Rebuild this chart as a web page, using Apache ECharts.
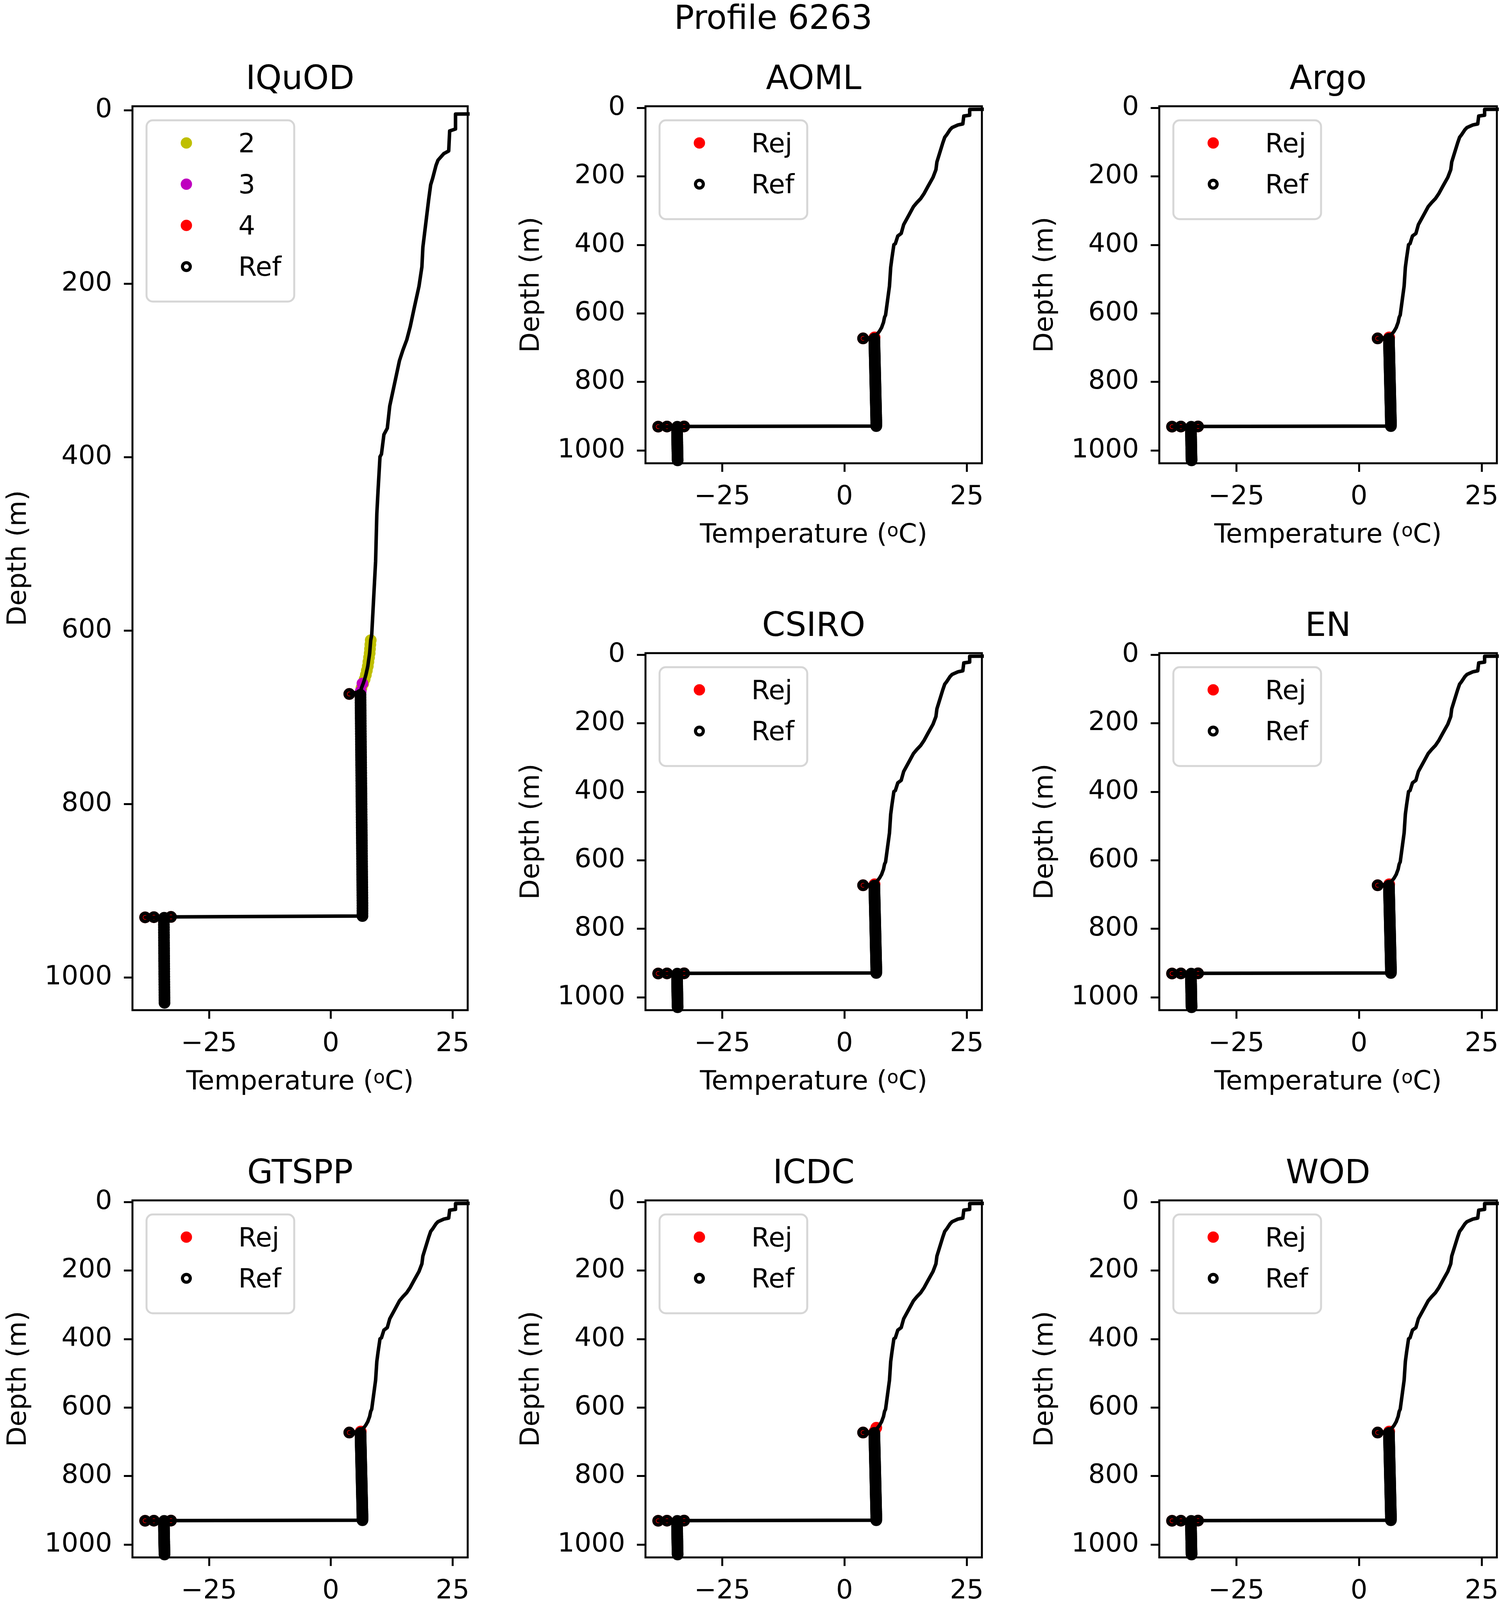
<!DOCTYPE html>
<html>
<head>
<meta charset="utf-8">
<script src="https://cdn.jsdelivr.net/npm/echarts@6/dist/echarts.min.js"></script>
<style>
  html, body { margin: 0; padding: 0; background: #fff; }
  #container { width: 3839px; height: 4217px; }
</style>
</head>
<body>
<div id="container"></div>
<script>
// temperature (degC) / depth (m), surface down to the flagged part
var upperTemp = [29.5, 25.6, 25.6, 24.4, 24.2, 23.2, 22.0, 21.6, 20.9, 20.5, 20.1, 18.9, 18.7, 18.1,
    17.1, 16.3, 15.6, 14.8, 14.1, 13.3, 12.1, 11.6, 10.9, 10.4, 10.1, 9.7, 9.45, 9.2, 8.4];
var upperDepth = [4.2, 4.4, 21.6, 23.9, 47, 50, 57.6, 63.6, 78.6, 86, 102.6, 158, 180.6, 203,
    228.6, 249.6, 264.6, 276.6, 288.6, 309.6, 341, 366.6, 374, 396.5, 399.5, 438.6, 465.5, 520, 605];

// IQuOD flag 2 (yellow)
var flag2Temp = [8.2, 8.12, 8.05, 7.98, 7.85, 7.72, 7.6, 7.4, 7.2, 6.95, 6.65, 6.3];
var flag2Depth = [611, 616, 621, 626, 631, 636, 641, 646, 651, 656, 661, 666];
// IQuOD flag 3 (magenta)
var flag3Temp = [6.5, 6.15];
var flag3Depth = [661, 670];
// IQuOD flag 4 (red)
var flag4Temp = [3.8, -32.8, -36.3, -38.1];
var flag4Depth = [673, 930, 930.3, 930.5];

// points rejected by the other QC groups
var rejTemp = [6.15, 3.8, -32.8, -36.3, -38.1];
var rejDepth = [670, 673, 930, 930.3, 930.5];
var icdcRejTemp = [6.5, 6.15, 3.8, -32.8, -36.3, -38.1];
var icdcRejDepth = [659, 670, 673, 930, 930.3, 930.5];

// the dense part of the profile (reference points)
var offTemp = [3.8];
var offDepth = [673];
var colTemp = [
    6.10, 6.10, 6.11, 6.11, 6.12, 6.12, 6.13, 6.13, 6.14, 6.14,
    6.15, 6.15, 6.16, 6.16, 6.17, 6.17, 6.18, 6.18, 6.19, 6.19,
    6.20, 6.20, 6.21, 6.21, 6.22, 6.22, 6.23, 6.23, 6.24, 6.24,
    6.25, 6.25, 6.26, 6.26, 6.27, 6.27, 6.28, 6.28, 6.29, 6.29,
    6.30, 6.30, 6.31, 6.31, 6.32, 6.32, 6.33, 6.33, 6.34, 6.34,
    6.35, 6.35, 6.36, 6.36, 6.37, 6.37, 6.38, 6.38, 6.39, 6.39,
    6.40, 6.40, 6.41, 6.41, 6.42, 6.42, 6.43, 6.43, 6.44, 6.44,
    6.45, 6.45, 6.46, 6.46, 6.47, 6.47, 6.48, 6.48, 6.49, 6.49,
    6.50, 6.50, 6.50, 6.50, 6.50, 6.50];
var colDepth = [
    674, 677, 680, 683, 686, 689, 692, 695, 698, 701,
    704, 707, 710, 713, 716, 719, 722, 725, 728, 731,
    734, 737, 740, 743, 746, 749, 752, 755, 758, 761,
    764, 767, 770, 773, 776, 779, 782, 785, 788, 791,
    794, 797, 800, 803, 806, 809, 812, 815, 818, 821,
    824, 827, 830, 833, 836, 839, 842, 845, 848, 851,
    854, 857, 860, 863, 866, 869, 872, 875, 878, 881,
    884, 887, 890, 893, 896, 899, 902, 905, 908, 911,
    914, 917, 920, 923, 926, 929];
var stepTemp = [-32.8, -36.3, -38.1, -34.2];
var stepDepth = [930, 930.3, 930.5, 931];
var deepTemp = [
    -34.25, -34.25, -34.25, -34.24, -34.24, -34.24, -34.23, -34.23, -34.23, -34.22, -34.22,
    -34.21, -34.21, -34.21, -34.20, -34.20, -34.20, -34.19, -34.19, -34.18, -34.18, -34.18,
    -34.17, -34.17, -34.16, -34.16, -34.15, -34.15, -34.14, -34.14, -34.13, -34.13, -34.12];
var deepDepth = [
    933, 936, 939, 942, 945, 948, 951, 954, 957, 960, 963,
    966, 969, 972, 975, 978, 981, 984, 987, 990, 993, 996,
    999, 1002, 1005, 1008, 1011, 1014, 1017, 1020, 1023, 1026, 1029];

var xTicks = [-25, 0, 25];
var yTicks = [0, 200, 400, 600, 800, 1000];

var panels = [
    { name: "IQuOD", left: 339, top: 272, width: 858, height: 2314 },
    { name: "AOML", left: 1652, top: 272, width: 861, height: 914 },
    { name: "Argo", left: 2967, top: 272, width: 864, height: 914 },
    { name: "CSIRO", left: 1652, top: 1672, width: 861, height: 914 },
    { name: "EN", left: 2967, top: 1672, width: 864, height: 914 },
    { name: "GTSPP", left: 339, top: 3073, width: 858, height: 914 },
    { name: "ICDC", left: 1652, top: 3073, width: 861, height: 914 },
    { name: "WOD", left: 2967, top: 3073, width: 864, height: 914 },
];

function pairs(t, d) {
    return t.map(function (v, i) { return [v, d[i]]; });
}

var profile = [].concat(
    pairs(upperTemp, upperDepth),
    pairs(flag2Temp, flag2Depth),
    pairs([flag3Temp[1]], [flag3Depth[1]]),
    pairs(offTemp, offDepth),
    pairs(colTemp, colDepth),
    pairs(stepTemp, stepDepth),
    pairs(deepTemp, deepDepth)
);
var refPoints = [].concat(
    pairs(offTemp, offDepth),
    pairs(colTemp, colDepth),
    pairs(stepTemp, stepDepth),
    pairs(deepTemp, deepDepth)
);

var FONT = "DejaVu Sans";
var RING = { color: "rgba(0,0,0,0)", borderColor: "#000", borderWidth: 9, opacity: 1 };

var grids = [], xAxes = [], yAxes = [], series = [], graphics = [];

graphics.push({
    type: "text", x: 1979, y: 52, z: 100,
    style: { text: "Profile 6263", fontSize: 85, fontFamily: FONT, fill: "#000", align: "center", verticalAlign: "middle" },
});

panels.forEach(function (p, i) {
    grids.push({
        left: p.left, top: p.top, width: p.width, height: p.height,
        show: true, borderColor: "#000", borderWidth: 5, backgroundColor: "#fff",
    });
    xAxes.push({
        gridIndex: i, type: "value", min: -40.7, max: 28.1,
        splitLine: { show: false },
        axisLine: { show: false, onZero: false },
        axisTick: { show: true, inside: false, length: 22, customValues: xTicks, lineStyle: { color: "#000", width: 5 } },
        axisLabel: {
            customValues: xTicks, margin: 53, fontSize: 68, lineHeight: 68, color: "#000", fontFamily: FONT,
            formatter: function (v) { return String(v).replace("-", "\u2212"); },
        },
        name: "Temperature ({sup|o}C)",
        nameLocation: "middle",
        nameGap: 151,
        nameTextStyle: {
            fontSize: 68, lineHeight: 68, color: "#000", fontFamily: FONT,
            rich: { sup: { fontSize: 48, lineHeight: 20, verticalAlign: "top", color: "#000", fontFamily: FONT } },
        },
    });
    yAxes.push({
        gridIndex: i, type: "value", inverse: true, min: -4.6, max: 1037.5,
        splitLine: { show: false },
        axisLine: { show: false, onZero: false },
        axisTick: { show: true, inside: false, length: 22, customValues: yTicks, lineStyle: { color: "#000", width: 5 } },
        axisLabel: {
            customValues: yTicks, margin: 52, fontSize: 68, lineHeight: 68, padding: [12, 0, 0, 0],
            color: "#000", fontFamily: FONT,
            formatter: function (v) { return String(v); },
        },
        name: "Depth (m)",
        nameLocation: "middle",
        nameGap: 257,
        nameTextStyle: { fontSize: 68, lineHeight: 68, color: "#000", fontFamily: FONT },
    });

    series.push({
        type: "line", xAxisIndex: i, yAxisIndex: i, data: profile,
        showSymbol: false, symbol: "none", clip: true, silent: true,
        lineStyle: { color: "#000", width: 9, join: "round" },
    });

    var legendItems;
    if (p.name === "IQuOD") {
        series.push({ type: "scatter", name: "2", xAxisIndex: i, yAxisIndex: i, data: pairs(flag2Temp, flag2Depth),
            symbolSize: 30, itemStyle: { color: "#bfbf00", opacity: 1 }, silent: true });
        series.push({ type: "scatter", name: "3", xAxisIndex: i, yAxisIndex: i, data: pairs(flag3Temp, flag3Depth),
            symbolSize: 30, itemStyle: { color: "#bf00bf", opacity: 1 }, silent: true });
        series.push({ type: "scatter", name: "4", xAxisIndex: i, yAxisIndex: i, data: pairs(flag4Temp, flag4Depth),
            symbolSize: 30, itemStyle: { color: "#ff0000", opacity: 1 }, silent: true });
        legendItems = [["2", "#bfbf00"], ["3", "#bf00bf"], ["4", "#ff0000"], ["Ref", null]];
    } else {
        var rej = p.name === "ICDC" ? pairs(icdcRejTemp, icdcRejDepth) : pairs(rejTemp, rejDepth);
        series.push({ type: "scatter", name: "Rej", xAxisIndex: i, yAxisIndex: i, data: rej,
            symbolSize: 30, itemStyle: { color: "#ff0000", opacity: 1 }, silent: true });
        legendItems = [["Rej", "#ff0000"], ["Ref", null]];
    }
    series.push({ type: "scatter", name: "Ref", xAxisIndex: i, yAxisIndex: i, data: refPoints,
        symbolSize: 21, itemStyle: RING, silent: true });

    // panel title
    graphics.push({
        type: "text", x: p.left + p.width / 2, y: p.top - 66, z: 100,
        style: { text: p.name, fontSize: 85, fontFamily: FONT, fill: "#000", align: "center", verticalAlign: "middle" },
    });

    // legend box
    var boxH = 42 + legendItems.length * 105.5;
    graphics.push({
        type: "rect", z: 100,
        shape: { x: p.left + 36, y: p.top + 36, width: 378, height: boxH, r: 16 },
        style: { fill: "rgba(255,255,255,0.8)", stroke: "#d6d6d6", lineWidth: 5 },
    });
    legendItems.forEach(function (it, k) {
        var cy = p.top + 94 + k * 105.5;
        if (it[1]) {
            graphics.push({ type: "circle", z: 101, shape: { cx: p.left + 138, cy: cy, r: 14.5 }, style: { fill: it[1] } });
        } else {
            graphics.push({ type: "circle", z: 101, shape: { cx: p.left + 138, cy: cy, r: 10 },
                style: { fill: "none", stroke: "#000", lineWidth: 8 } });
        }
        graphics.push({
            type: "text", x: p.left + 271, y: cy + 6, z: 101,
            style: { text: it[0], fontSize: 68, fontFamily: FONT, fill: "#000", align: "left", verticalAlign: "middle" },
        });
    });
});

var dom = document.getElementById("container");
var myChart = echarts.init(dom, null, { renderer: "canvas", devicePixelRatio: 1 });
var option = {
    animation: false,
    backgroundColor: "#fff",
    textStyle: { fontFamily: FONT },
    grid: grids,
    xAxis: xAxes,
    yAxis: yAxes,
    series: series,
    graphic: graphics,
};
myChart.setOption(option);
</script>
</body>
</html>
